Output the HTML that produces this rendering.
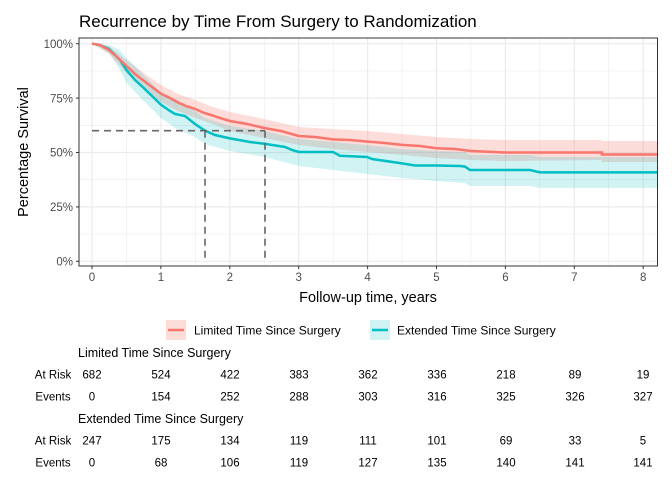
<!DOCTYPE html>
<html><head><meta charset="utf-8"><style>
body{margin:0;background:#fff;}
svg text{font-family:"Liberation Sans",sans-serif;}
</style></head><body>
<svg width="672" height="480" viewBox="0 0 672 480" xmlns="http://www.w3.org/2000/svg">
<rect width="672" height="480" fill="#fff"/>
<text x="79" y="27" font-size="17" fill="#000">Recurrence by Time From Surgery to Randomization</text>
<g stroke="#ebebeb" stroke-width="0.6">
<line x1="79" x2="657" y1="234.1" y2="234.1"/><line x1="79" x2="657" y1="179.7" y2="179.7"/>
<line x1="79" x2="657" y1="125.3" y2="125.3"/><line x1="79" x2="657" y1="70.9" y2="70.9"/>
<line x1="126.5" x2="126.5" y1="38" y2="266"/><line x1="195.4" x2="195.4" y1="38" y2="266"/>
<line x1="264.3" x2="264.3" y1="38" y2="266"/><line x1="333.2" x2="333.2" y1="38" y2="266"/>
<line x1="402" x2="402" y1="38" y2="266"/><line x1="470.9" x2="470.9" y1="38" y2="266"/>
<line x1="539.8" x2="539.8" y1="38" y2="266"/><line x1="608.7" x2="608.7" y1="38" y2="266"/>
</g>
<g stroke="#ebebeb" stroke-width="1.2">
<line x1="79" x2="657" y1="261.3" y2="261.3"/><line x1="79" x2="657" y1="206.9" y2="206.9"/>
<line x1="79" x2="657" y1="152.5" y2="152.5"/><line x1="79" x2="657" y1="98.1" y2="98.1"/>
<line x1="79" x2="657" y1="43.7" y2="43.7"/>
<line x1="92" x2="92" y1="38" y2="266"/><line x1="160.9" x2="160.9" y1="38" y2="266"/>
<line x1="229.8" x2="229.8" y1="38" y2="266"/><line x1="298.7" x2="298.7" y1="38" y2="266"/>
<line x1="367.6" x2="367.6" y1="38" y2="266"/><line x1="436.5" x2="436.5" y1="38" y2="266"/>
<line x1="505.4" x2="505.4" y1="38" y2="266"/><line x1="574.3" x2="574.3" y1="38" y2="266"/>
<line x1="643.2" x2="643.2" y1="38" y2="266"/>
</g>
<polygon fill="#f8766d" fill-opacity="0.25" points="92,43.7 109,46 126.5,60 143.7,73 160.9,85 178,94 195.4,100 212.6,107 229.8,112 264.3,119 298.7,127 333,129 367.6,131 402,134 436.5,137 470.9,139 505,140 601.9,140 601.9,141 657,141 657,162 601.9,162 601.9,160 505,161 470.9,160 436.5,158 402,155 367.6,152 333,149 298.7,145 264.3,138 229.8,131 212.6,124 195.4,118 178,111 160.9,102 143.7,89 126.5,73 109,54 92,43.7"/>
<polygon fill="#00bfc4" fill-opacity="0.18" points="92,43.7 109,45 120,50 126.5,58 143.7,75 160.9,92 175,101 195,111 205,118 229.8,126 264.3,131 298.7,139 333,142 367,145 402,149 436.5,151 465,152 470,155 530,155 540,157 657,157 657,188 540,188 530,186 470,186 465,183 436.5,181 402,178 367,174 333,170 298.7,166 264.3,157 229.8,151 205,144 195,137 175,128 160.9,118 143.7,101 126.5,83 120,70 109,53 92,43.7"/>
<polyline fill="none" stroke="#00bfc4" stroke-width="2.5" points="92,43.7 100,45 109,49 115,55 120,60 126.5,70 135,80 143.7,88 152,96 160.9,104.6 170,111 175,114 185,116 195,124 205,130.7 215,135 229.8,138.4 250,142 264.3,143.8 285,147 292,150 298.7,152 333,152 340,155.8 367,157 372,159 402,163.4 415,165.5 436.5,165.5 460,166 465,166.6 470,170 530,170 540,172.4 657,172.4"/>
<polyline fill="none" stroke="#f8766d" stroke-width="2.5" points="92,43.7 100,45 109,50 118,58 126.5,66 135,74 143.7,80.7 152,87 160.9,93.7 170,98 178,102.5 186,106 195.4,109 204,113 212.6,115.5 220,118 229.8,121 247,124 264.3,128 281,131 298.7,136 315,137 333,139.4 350,140 367.6,141.6 385,143 402,144.9 420,146 436.5,148.2 455,149 470.9,151 505,152.5 601.9,152.5 601.9,154.5 657,154.5"/>
<g stroke="#666" stroke-width="1.6" stroke-dasharray="7,5" fill="none">
<line x1="92" x2="265" y1="130.7" y2="130.7"/>
<line x1="205" x2="205" y1="130.7" y2="261.3"/>
<line x1="265" x2="265" y1="130.7" y2="261.3"/>
</g>
<rect x="79" y="38" width="578.5" height="228" fill="none" stroke="#333" stroke-width="1"/>
<g font-size="11.5" fill="#4d4d4d" text-anchor="end">
<text x="73" y="265.5">0%</text><text x="73" y="211">25%</text>
<text x="73" y="156.7">50%</text><text x="73" y="102.3">75%</text><text x="73" y="48">100%</text>
</g>
<g stroke="#333"><line x1="76" x2="79" y1="261.3" y2="261.3"/><line x1="76" x2="79" y1="206.9" y2="206.9"/><line x1="76" x2="79" y1="152.5" y2="152.5"/><line x1="76" x2="79" y1="98.1" y2="98.1"/><line x1="76" x2="79" y1="43.7" y2="43.7"/></g>
<g font-size="11.5" fill="#4d4d4d" text-anchor="middle">
<text x="92" y="281">0</text><text x="160.9" y="281">1</text><text x="229.8" y="281">2</text><text x="298.7" y="281">3</text><text x="367.6" y="281">4</text><text x="436.5" y="281">5</text><text x="505.4" y="281">6</text><text x="574.3" y="281">7</text><text x="643.2" y="281">8</text>
</g>
<g stroke="#333"><line x1="92" x2="92" y1="266" y2="269"/><line x1="160.9" x2="160.9" y1="266" y2="269"/><line x1="229.8" x2="229.8" y1="266" y2="269"/><line x1="298.7" x2="298.7" y1="266" y2="269"/><line x1="367.6" x2="367.6" y1="266" y2="269"/><line x1="436.5" x2="436.5" y1="266" y2="269"/><line x1="505.4" x2="505.4" y1="266" y2="269"/><line x1="574.3" x2="574.3" y1="266" y2="269"/><line x1="643.2" x2="643.2" y1="266" y2="269"/></g>
<text x="368" y="302" font-size="14.5" text-anchor="middle" fill="#000">Follow-up time, years</text>
<text transform="translate(28,152) rotate(-90)" font-size="14.5" text-anchor="middle" fill="#000">Percentage Survival</text>
<rect x="166" y="320" width="20" height="20" fill="#f8766d" fill-opacity="0.25"/>
<line x1="168" x2="184" y1="330" y2="330" stroke="#f8766d" stroke-width="2.5"/>
<text x="194" y="334.5" font-size="12" fill="#000">Limited Time Since Surgery</text>
<rect x="370" y="320" width="20" height="20" fill="#00bfc4" fill-opacity="0.18"/>
<line x1="372" x2="388" y1="330" y2="330" stroke="#00bfc4" stroke-width="2.5"/>
<text x="397" y="334.5" font-size="12" fill="#000">Extended Time Since Surgery</text>
<g font-size="12.5" fill="#000">
<text x="78" y="357">Limited Time Since Surgery</text>
<text x="78" y="423">Extended Time Since Surgery</text>
</g>
<g font-size="11.5" fill="#000" text-anchor="middle">
<text x="53" y="378.5">At Risk</text><text x="53" y="400.5">Events</text>
<text x="53" y="444.5">At Risk</text><text x="53" y="466.5">Events</text>
<text x="92" y="378.5">682</text><text x="161" y="378.5">524</text><text x="230" y="378.5">422</text><text x="299" y="378.5">383</text><text x="368" y="378.5">362</text><text x="437" y="378.5">336</text><text x="506" y="378.5">218</text><text x="575" y="378.5">89</text><text x="643" y="378.5">19</text>
<text x="92" y="400.5">0</text><text x="161" y="400.5">154</text><text x="230" y="400.5">252</text><text x="299" y="400.5">288</text><text x="368" y="400.5">303</text><text x="437" y="400.5">316</text><text x="506" y="400.5">325</text><text x="575" y="400.5">326</text><text x="643" y="400.5">327</text>
<text x="92" y="444.5">247</text><text x="161" y="444.5">175</text><text x="230" y="444.5">134</text><text x="299" y="444.5">119</text><text x="368" y="444.5">111</text><text x="437" y="444.5">101</text><text x="506" y="444.5">69</text><text x="575" y="444.5">33</text><text x="643" y="444.5">5</text>
<text x="92" y="466.5">0</text><text x="161" y="466.5">68</text><text x="230" y="466.5">106</text><text x="299" y="466.5">119</text><text x="368" y="466.5">127</text><text x="437" y="466.5">135</text><text x="506" y="466.5">140</text><text x="575" y="466.5">141</text><text x="643" y="466.5">141</text>
</g>
</svg>
</body></html>
